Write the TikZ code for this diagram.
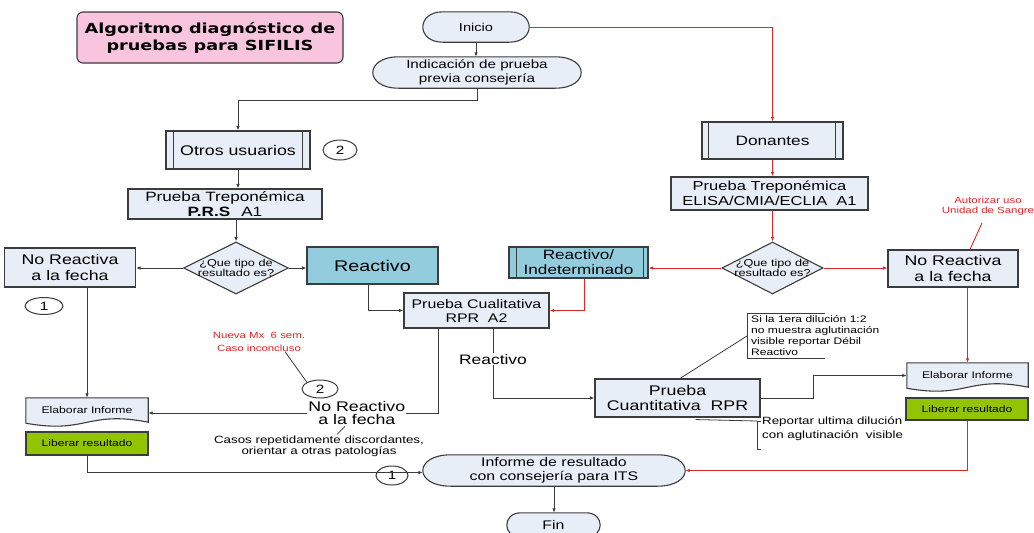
\documentclass[tikz,border=0pt]{standalone}
\usepackage{fontspec}
\setmainfont{Liberation Sans}[FakeStretch=1.27]
\newfontfamily\titlefont{DejaVu Sans}[FakeStretch=1.27]
\usetikzlibrary{arrows.meta,calc,shapes.geometric,backgrounds}
\definecolor{bdr}{RGB}{60,60,60}
\definecolor{boxfill}{RGB}{232,238,248}
\definecolor{tealbox}{RGB}{147,205,221}
\definecolor{grn}{RGB}{146,196,0}
\definecolor{pinkbox}{RGB}{249,196,222}
\definecolor{redln}{RGB}{220,40,40}
\newcommand\fs[2]{\fontsize{#1}{#2}\selectfont}
\newcommand\termshape[2]{%
  \draw[shapeline] let \p1=(#1.north west), \p2=(#1.south east) in
    (\x1+#2pt,\y1) -- (\x2-#2pt,\y1)
    .. controls (\x2+#2pt/3,\y1) and (\x2+#2pt/3,\y2) .. (\x2-#2pt,\y2)
    -- (\x1+#2pt,\y2)
    .. controls (\x1-#2pt/3,\y2) and (\x1-#2pt/3,\y1) .. (\x1+#2pt,\y1) -- cycle;}
\newcommand\docshape[1]{%
  \draw[shapeline] let \p1=(#1.north west), \p2=(#1.south east) in
    (\x1,\y1) -- (\x2,\y1) -- (\x2,\y2+1pt)
    .. controls ({(\x1+\x2)/2},\y2+13pt) and ({(\x1+\x2)/2},\y2-11pt) .. (\x1,\y2) -- cycle;}
\newcommand\subproc[3]{%
  \draw[draw=bdr,line width=1.1pt] ([xshift=#2pt]#1.north west) -- ([xshift=#2pt]#1.south west)
    ([xshift=-#3pt]#1.north east) -- ([xshift=-#3pt]#1.south east);}
\begin{document}
\begin{tikzpicture}[x=1pt,y=-1pt,
  box/.style={draw=bdr, fill=boxfill, line width=1.1pt, inner sep=0pt, align=center},
  tbox/.style={box, fill=tealbox},
  gbox/.style={box, fill=grn},
  plain/.style={inner sep=0pt, align=center},
  shapeline/.style={draw=bdr, fill=boxfill, line width=1.1pt},
  circ/.style={ellipse, draw=bdr, fill=white, line width=1pt, inner sep=0pt, font=\fs{12}{13}},
  dia/.style={diamond, draw=bdr, fill=boxfill, line width=1.1pt, inner sep=0pt},
  dtxt/.style={align=center, inner sep=0pt, font=\fs{10}{10.5}},
  arr/.style={draw=bdr, line width=0.9pt, -{Latex[length=4.5pt,width=3.5pt]}},
  rarr/.style={draw=redln, line width=0.9pt, -{Latex[length=4.5pt,width=3.5pt]}},
  thinl/.style={draw=bdr, line width=0.8pt},
  lbl/.style={fill=white, inner sep=1pt, align=center},
  redtxt/.style={text=redln, align=center, inner sep=0pt}]
\useasboundingbox (0,0) rectangle (1034,533);

% title
\node[draw=bdr, fill=pinkbox, rounded corners=6pt, line width=1.1pt, align=center, inner sep=0pt,
  minimum width=266pt, minimum height=51pt, font=\titlefont\bfseries\fs{13.9}{17}] (title) at (210,37.5)
  {Algoritmo diagnóstico de\\pruebas para SIFILIS};

% terminals
\node[plain, minimum width=106pt, minimum height=30pt, font=\fs{11.5}{13}] (inicio) at (476,27) {Inicio};
\node[plain, minimum width=208pt, minimum height=31pt, font=\fs{12}{14}] (indic) at (477,72.5) {Indicación de prueba\\previa consejería};
\node[plain, minimum width=262pt, minimum height=31pt, font=\fs{12.5}{13.5}] (informe) at (554,470.5) {Informe de resultado\\con consejería para ITS};
\node[plain, minimum width=93pt, minimum height=24pt, font=\fs{12.5}{13}] (fin) at (553.5,525) {Fin};

% left branch
\node[box, minimum width=144pt, minimum height=38pt, font=\fs{14}{16}] (otros) at (238,150) {Otros usuarios};
\node[circ, minimum width=34pt, minimum height=20pt] (c2a) at (340,150) {2};
\node[box, minimum width=194pt, minimum height=30pt, font=\fs{13.5}{15.5}] (prs) at (225,204) {Prueba Treponémica\\\textbf{P.R.S}\hspace{11pt}A1};
\node[dia, minimum width=105pt, minimum height=52pt, label={[dtxt]center:{¿Que tipo de\\resultado es?}}] (dL) at (236,268) {};
\node[box, minimum width=131pt, minimum height=39pt, font=\fs{14}{15.5}] (nrL) at (70,267.5) {No Reactiva\\a la fecha};
\node[tbox, minimum width=131pt, minimum height=37pt, font=\fs{15.5}{17}] (reac) at (372.5,265.5) {Reactivo};
\node[circ, minimum width=38pt, minimum height=17pt] (c1a) at (44,306) {1};
\node[box, minimum width=145pt, minimum height=35pt, font=\fs{12.5}{14}] (cual) at (476.5,310.5) {Prueba Cualitativa\\RPR\ \ A2};
\node[plain, minimum width=122pt, minimum height=25pt, font=\fs{9.6}{11}] (elabL) at (87,410.5) {Elaborar Informe};
\node[gbox, minimum width=122pt, minimum height=23pt, font=\fs{9.5}{11}] (libL) at (87,443.5) {Liberar resultado};
\node[circ, minimum width=36pt, minimum height=18pt] (c2b) at (320,389) {2};
\node[circ, minimum width=32pt, minimum height=19pt] (c1b) at (392,475.5) {1};
\node[redtxt, font=\fs{9}{12.5}] (red1) at (259,342) {Nueva Mx\ \ 6 sem.\\Caso inconcluso};
\node[plain, font=\fs{10.5}{11}] (casos) at (319,446) {Casos repetidamente discordantes,\\orientar a otras patologías};

% right branch
\node[box, minimum width=141pt, minimum height=37pt, font=\fs{13.6}{15}] (donantes) at (772.5,140.5) {Donantes};
\node[box, minimum width=197pt, minimum height=33pt, font=\fs{13}{15}] (elisa) at (769.5,193.5) {Prueba Treponémica\\ELISA/CMIA/ECLIA\ \ A1};
\node[dia, minimum width=101pt, minimum height=52pt, label={[dtxt]center:{¿Que tipo de\\resultado es?}}] (dR) at (772.5,268) {};
\node[tbox, minimum width=139pt, minimum height=31pt, font=\fs{13.5}{15}] (reind) at (578.5,262.5) {Reactivo/\\Indeterminado};
\node[box, minimum width=130pt, minimum height=37pt, font=\fs{14}{15.5}] (nrR) at (953,268.5) {No Reactiva\\a la fecha};
\node[redtxt, font=\fs{9}{10}] (aut) at (988,206.5) {Autorizar uso\\Unidad de Sangre};
\node[plain, minimum width=121pt, minimum height=25pt, font=\fs{9.6}{11}] (elabR) at (967.5,375.5) {Elaborar Informe};
\node[gbox, minimum width=122pt, minimum height=22pt, font=\fs{9.5}{11}] (libR) at (967,409) {Liberar resultado};
\node[box, minimum width=165pt, minimum height=38pt, font=\fs{14}{15}] (cuant) at (677.5,398) {Prueba\\Cuantitativa\ \ RPR};
\node[plain, anchor=north west, align=left, font=\fs{9.5}{11}] (co1) at (751,315) {Si la 1era dilución 1:2\\no muestra aglutinación\\visible reportar Débil\\Reactivo};
\node[plain, anchor=north west, align=left, font=\fs{10.5}{13.5}] (co2) at (762,417) {Reportar ultima dilución\\con aglutinación\ \ visible};

% shapes drawn behind texts
\begin{scope}[on background layer]
  \fill[white] (0,0) rectangle (1034,533);
  \termshape{inicio}{20}
  \termshape{indic}{26}
  \termshape{informe}{28}
  \termshape{fin}{14}
  \docshape{elabL}
  \docshape{elabR}
\end{scope}
\subproc{otros}{8}{8}
\subproc{donantes}{7}{8}
\subproc{reind}{8}{5}

% connectors, black
\draw[arr] (inicio.south) -- (inicio.south |- indic.north);
\draw[arr] (indic.south) -- ++(0,12) -| (otros.north);
\draw[arr] (otros.south) -- (otros.south |- prs.north);
\draw[arr] (dL.north |- prs.south) -- (dL.north);
\draw[arr] (dL.west) -- (dL.west -| nrL.east);
\draw[arr] (dL.east) -- (dL.east -| reac.west);
\draw[arr] ([xshift=-4pt]reac.south) |- (cual.west);
\draw[arr] (elabL.north |- nrL.south) -- (elabL.north);
\draw[arr] (libL.south) |- ([yshift=-2pt]informe.west);
\draw[arr] (informe.south) -- (informe.south |- fin.north);
\draw[arr] ([xshift=-38.5pt]cual.south) |- node[pos=0.64, lbl, font=\fs{14}{13.5}] (nrM) {No Reactivo\\a la fecha} ([yshift=-2.5pt]elabL.east);
\draw[arr] ([xshift=16.5pt]cual.south) |- node[pos=0.22, lbl, font=\fs{13.7}{15}] (reacLbl) {Reactivo} (cuant.west);
\draw[arr] (cuant.east) -- ++(53,0) |- (elabR.west);

% connectors, red
\draw[rarr] (inicio.east) -| (donantes.north);
\draw[rarr] (donantes.south) -- (donantes.south |- elisa.north);
\draw[rarr] (dR.north |- elisa.south) -- (dR.north);
\draw[rarr] (dR.west) -- (dR.west -| reind.east);
\draw[rarr] (dR.east) -- (dR.east -| nrR.west);
\draw[rarr] ([xshift=6pt]reind.south) |- (cual.east);
\draw[rarr] (elabR.north |- nrR.south) -- (elabR.north);
\draw[rarr] (libR.south) |- (informe.east);
\draw[draw=redln, line width=0.9pt] ([shift={(-6pt,-7pt)}]aut.south) -- ([xshift=17pt]nrR.north);

% callouts
\coordinate (b1a) at (825,313);
\coordinate (b1b) at (747,313);
\coordinate (b1c) at (747,358);
\coordinate (b1d) at (825,358);
\coordinate (b1m) at (747,336);
\draw[thinl] (b1a) -- (b1b) -- (b1c) -- (b1d);
\draw[thinl] ([xshift=2.5pt]cuant.north) -- (b1m);
\coordinate (b2a) at (761,421);
\coordinate (b2b) at (757,421);
\coordinate (b2c) at (757,449);
\coordinate (b2d) at (761,449);
\draw[thinl] (b2a) -- (b2b) -- (b2c) -- (b2d);
\draw[thinl] ([shift={(18pt,-2pt)}]cuant.south) -- (b2b);
\draw[thinl] ([xshift=26pt]red1.south) -- (c2b.north west);
\draw[thinl] ([xshift=18pt,yshift=1pt]casos.north) -- ++(8,-8);
\end{tikzpicture}
\end{document}
